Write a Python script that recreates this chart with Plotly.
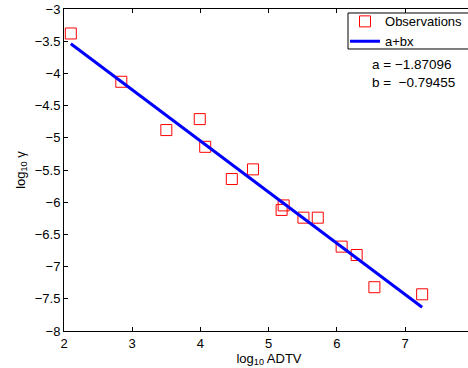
import plotly.graph_objects as go

# Observations (log10 ADTV, log10 gamma)
obs_x = [2.10, 2.84, 3.50, 3.99, 4.07, 4.46, 4.77, 5.19, 5.22, 5.51, 5.72, 6.07, 6.29, 6.55, 7.25]
obs_y = [-3.38, -4.13, -4.88, -4.71, -5.14, -5.64, -5.49, -6.12, -6.05, -6.24, -6.24, -6.69, -6.82, -7.32, -7.43]

# fit parameters
a = -1.87096
b = -0.79455
fit_x = [min(obs_x), max(obs_x)]
fit_y = [a + b * v for v in fit_x]

x_ticks = [2, 3, 4, 5, 6, 7]
y_ticks = [-3, -3.5, -4, -4.5, -5, -5.5, -6, -6.5, -7, -7.5, -8]
y_tick_labels = ["\u2212" + ("%g" % abs(v)) for v in y_ticks]

FAM = "Liberation Sans, Arial, sans-serif"
font = dict(family=FAM, size=13, color="black")

fig = go.Figure()
fig.add_trace(go.Scatter(
    x=obs_x, y=obs_y, mode="markers", name="Observations",
    marker=dict(symbol="square-open", size=11, color="red", line=dict(width=1, color="red")),
))
fig.add_trace(go.Scatter(
    x=fit_x, y=fit_y, mode="lines", name="a+bx",
    line=dict(color="#0000ff", width=3),
))

# the axes box runs past the right edge of the window, as in the reference
fig.update_layout(
    width=474, height=368,
    margin=dict(l=64, r=0, t=9, b=37, autoexpand=False),
    paper_bgcolor="white", plot_bgcolor="white",
    font=font,
    showlegend=True,
    legend=dict(
        x=0.6854, y=1.008, xanchor="left", yanchor="top",
        borderwidth=0, bgcolor="rgba(0,0,0,0)",
        font=dict(family=FAM, size=13, color="black"),
        tracegroupgap=0, itemwidth=30,
    ),
    shapes=[dict(
        type="rect", xref="paper", yref="paper",
        x0=0.6927, x1=1.05, y0=0.8758, y1=0.9876,
        line=dict(color="black", width=1), fillcolor="white", layer="above",
    )],
    xaxis=dict(
        range=[2, 8.01], tickvals=x_ticks, ticktext=[str(v) for v in x_ticks],
        ticks="inside", ticklen=4, tickcolor="black", showgrid=False, zeroline=False,
        showline=True, linecolor="black", linewidth=1, mirror="ticks",
        title=dict(text="log<sub>10</sub> ADTV", standoff=0, font=font),
        tickfont=font,
    ),
    yaxis=dict(
        range=[-8, -3], tickvals=y_ticks, ticktext=y_tick_labels,
        ticks="inside", ticklen=4, tickcolor="black", showgrid=False, zeroline=False,
        showline=True, linecolor="black", linewidth=1,
        title=dict(text="log<sub>10</sub> \u03b3", standoff=6, font=font),
        tickfont=font,
    ),
    annotations=[dict(
        xref="paper", yref="paper", x=0.746, y=0.857, xanchor="left", yanchor="top",
        text="a = \u22121.87096<br>b =  \u22120.79455", showarrow=False, align="left",
        font=dict(family=FAM, size=13.5, color="black"),
    )],
)

fig.write_html(
    "out.html",
    config={"displayModeBar": False, "staticPlot": True},
    post_script=(
        "document.body.style.margin='0';"
        "document.body.style.overflow='hidden';"
        "document.documentElement.style.overflow='hidden';"
    ),
)
